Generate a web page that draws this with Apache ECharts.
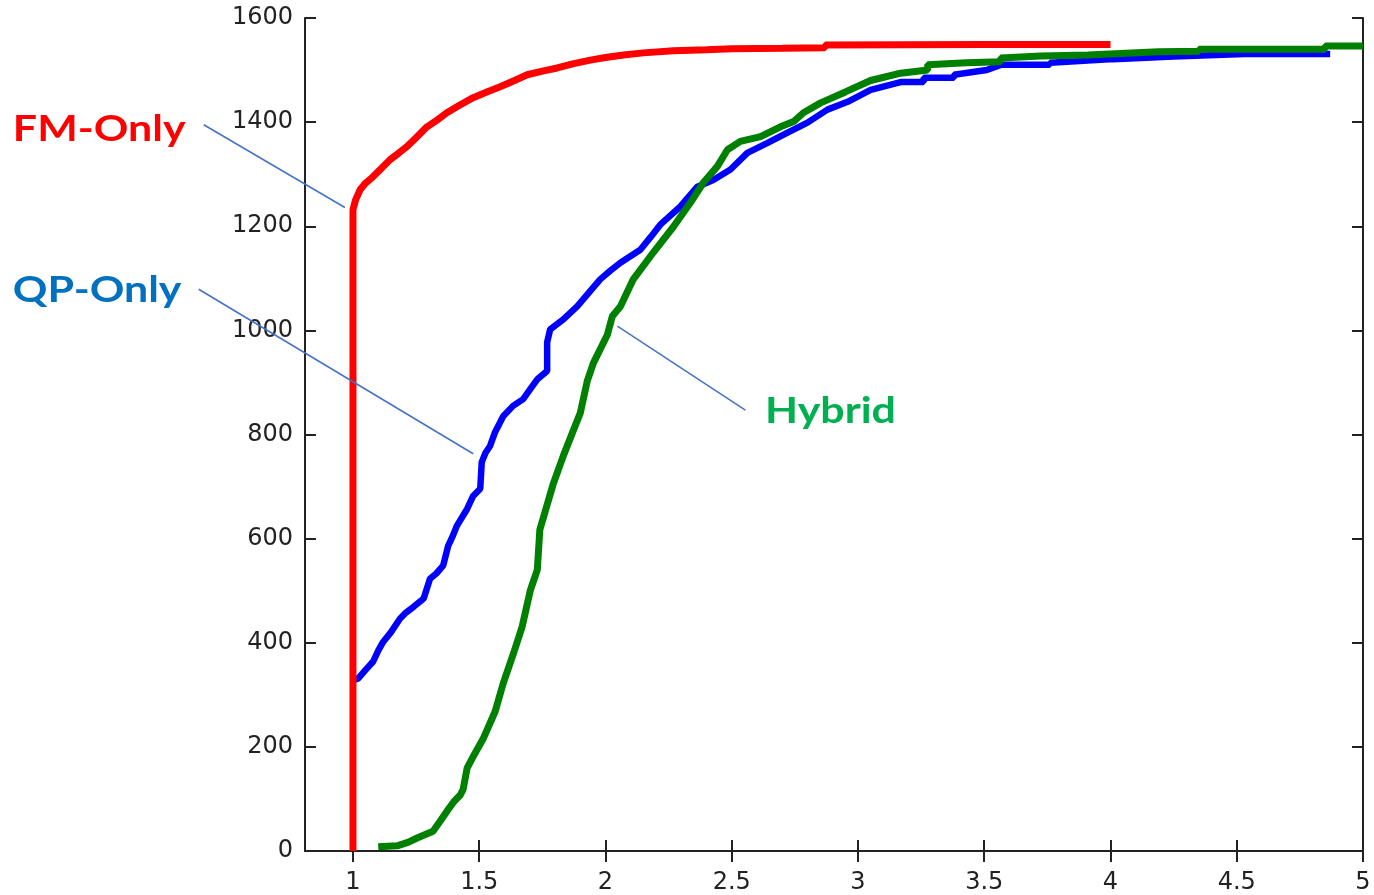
<!DOCTYPE html>
<html>
<head>
<meta charset="utf-8">
<script src="https://cdn.jsdelivr.net/npm/echarts@6/dist/echarts.min.js"></script>
<style>
  html, body { margin: 0; padding: 0; background: #ffffff; }
  #chart { width: 1374px; height: 895px; }
</style>
</head>
<body>
<div id="chart"></div>
<script>
// Tick positions shown on the axes
const xTicks = [1, 1.5, 2, 2.5, 3, 3.5, 4, 4.5, 5];
const yTicks = [0, 200, 400, 600, 800, 1000, 1200, 1400, 1600];

// FM-Only curve: ratio (x) vs. number of instances solved (y)
const fmX = [1, 1, 1.01, 1.028, 1.05, 1.079, 1.11, 1.147, 1.18, 1.214, 1.25, 1.293, 1.33, 1.372, 1.42, 1.476, 1.53, 1.583, 1.64, 1.69, 1.75, 1.809, 1.87, 1.94, 2.0, 2.071, 2.15, 2.269, 2.4, 2.5, 2.7, 2.87, 2.87, 3.5, 4.0];
const fmY = [0, 1232, 1250, 1270, 1283, 1295, 1310, 1328, 1340, 1353, 1370, 1391, 1403, 1418, 1432, 1447, 1458, 1468, 1480, 1491, 1498, 1504, 1512, 1519, 1524, 1529, 1533, 1537, 1539, 1541, 1542, 1543, 1548, 1549, 1549];

// QP-Only curve
const qpX = [1, 1.02, 1.05, 1.08, 1.10, 1.12, 1.15, 1.186, 1.21, 1.24, 1.28, 1.305, 1.33, 1.357, 1.377, 1.395, 1.412, 1.452, 1.476, 1.504, 1.51, 1.525, 1.543, 1.563, 1.595, 1.634, 1.674, 1.702, 1.73, 1.769, 1.769, 1.781, 1.833, 1.888, 1.93, 1.979, 2.02, 2.059, 2.138, 2.18, 2.217, 2.297, 2.364, 2.427, 2.495, 2.562, 2.642, 2.721, 2.80, 2.879, 2.959, 3.05, 3.169, 3.26, 3.26, 3.38, 3.38, 3.51, 3.565, 3.76, 3.76, 4.01, 4.25, 4.53, 4.87];
const qpY = [328, 331, 348, 364, 385, 402, 420, 446, 458, 469, 485, 523, 533, 548, 586, 605, 625, 657, 682, 696, 747, 765, 778, 805, 835, 855, 868, 887, 906, 922, 977, 1002, 1021, 1046, 1070, 1098, 1115, 1130, 1155, 1180, 1203, 1238, 1276, 1289, 1309, 1341, 1360, 1380, 1399, 1424, 1439, 1462, 1477, 1477, 1485, 1485, 1491, 1500, 1510, 1510, 1514, 1521, 1526, 1531, 1531];

// Hybrid curve
const hyX = [1.1, 1.175, 1.22, 1.254, 1.317, 1.345, 1.373, 1.40, 1.424, 1.436, 1.452, 1.48, 1.515, 1.563, 1.595, 1.634, 1.67, 1.702, 1.73, 1.74, 1.76, 1.793, 1.833, 1.872, 1.90, 1.928, 1.952, 2.007, 2.027, 2.059, 2.11, 2.19, 2.269, 2.336, 2.388, 2.443, 2.483, 2.534, 2.614, 2.693, 2.745, 2.784, 2.852, 2.95, 3.05, 3.169, 3.276, 3.276, 3.43, 3.565, 3.565, 3.724, 3.91, 3.91, 4.19, 4.35, 4.35, 4.85, 4.85, 5.0];
const hyY = [8, 10, 17, 25, 38, 57, 77, 95, 107, 118, 159, 185, 215, 268, 322, 377, 431, 500, 540, 617, 650, 705, 759, 807, 841, 903, 937, 991, 1027, 1046, 1098, 1150, 1199, 1245, 1284, 1315, 1347, 1363, 1372, 1391, 1401, 1418, 1437, 1458, 1480, 1494, 1500, 1510, 1514, 1516, 1523, 1527, 1529, 1531, 1535, 1536, 1540, 1540, 1546, 1546];

// Callout labels: text anchor (left, middle) and leader line endpoints, in data units
const labelNames = ['FM-Only', 'QP-Only', 'Hybrid'];
const labelColors = ['#FF0000', '#0070C0', '#00B050'];
const labelAnchors = [[-0.347, 1387], [-0.347, 1077], [2.632, 845]];
const leaderFrom = [[0.409, 1395], [0.389, 1079], [2.047, 1008]];
const leaderTo = [[0.968, 1236], [1.476, 763], [2.554, 847]];

function zip(xs, ys) { return xs.map((x, i) => [x, ys[i]]); }

const chart = echarts.init(document.getElementById('chart'), null, { renderer: 'canvas' });

const axisLineStyle = { color: '#222', width: 2 };
const labelFont = { fontFamily: 'DejaVu Sans', fontSize: 24, color: '#222', formatter: (v) => String(v) };

chart.setOption({
  animation: false,
  backgroundColor: '#ffffff',
  grid: { left: 305, right: 11, top: 18, bottom: 43, containLabel: false },
  xAxis: [
    {
      type: 'value', min: 0.81, max: 5, position: 'bottom',
      axisLine: { show: true, lineStyle: axisLineStyle },
      axisTick: { show: true, inside: true, length: 11, customValues: xTicks, lineStyle: axisLineStyle },
      axisLabel: Object.assign({ show: true, margin: 20, customValues: xTicks }, labelFont),
      splitLine: { show: false }
    },
    {
      type: 'value', min: 0.81, max: 5, position: 'top',
      axisLine: { show: true, lineStyle: axisLineStyle },
      axisTick: { show: true, inside: true, length: 11, customValues: xTicks, lineStyle: axisLineStyle },
      axisLabel: { show: false },
      splitLine: { show: false }
    }
  ],
  yAxis: [
    {
      type: 'value', min: 0, max: 1600, interval: 200, position: 'left',
      axisLine: { show: true, lineStyle: axisLineStyle },
      axisTick: { show: true, inside: true, length: 11, customValues: yTicks, lineStyle: axisLineStyle },
      axisLabel: Object.assign({ show: true, margin: 12, customValues: yTicks }, labelFont),
      splitLine: { show: false }
    },
    {
      type: 'value', min: 0, max: 1600, interval: 200, position: 'right',
      axisLine: { show: true, lineStyle: axisLineStyle },
      axisTick: { show: true, inside: true, length: 11, customValues: yTicks, lineStyle: axisLineStyle },
      axisLabel: { show: false },
      splitLine: { show: false }
    }
  ],
  series: [
    {
      name: 'QP-Only', type: 'line', data: zip(qpX, qpY), showSymbol: false, symbol: 'none',
      lineStyle: { color: '#0000FF', width: 6.5 }, z: 2, silent: true, clip: true
    },
    {
      name: 'Hybrid', type: 'line', data: zip(hyX, hyY), showSymbol: false, symbol: 'none',
      lineStyle: { color: '#008000', width: 7 }, z: 3, silent: true, clip: true
    },
    {
      name: 'FM-Only', type: 'line', data: zip(fmX, fmY), showSymbol: false, symbol: 'none',
      lineStyle: { color: '#FF0000', width: 7 }, z: 4, silent: true, clip: true
    }
  ]
});

// Callout text and leader lines, placed through the axes' own scales
const toPx = (p) => chart.convertToPixel({ xAxisIndex: 0, yAxisIndex: 0 }, p);
const graphics = [];
labelNames.forEach((name, i) => {
  const a = toPx(labelAnchors[i]);
  const f = toPx(leaderFrom[i]);
  const t = toPx(leaderTo[i]);
  graphics.push({
    type: 'line', z: 100, silent: true,
    shape: { x1: f[0], y1: f[1], x2: t[0], y2: t[1] },
    style: { stroke: '#4472C4', lineWidth: 1.5 }
  });
  graphics.push({
    type: 'text', z: 100, silent: true, x: a[0], y: a[1], scaleX: 1.16,
    style: { text: name, fill: labelColors[i], font: 'bold 37px Lato', align: 'left', verticalAlign: 'middle' }
  });
});
chart.setOption({ graphic: graphics });
</script>
</body>
</html>
